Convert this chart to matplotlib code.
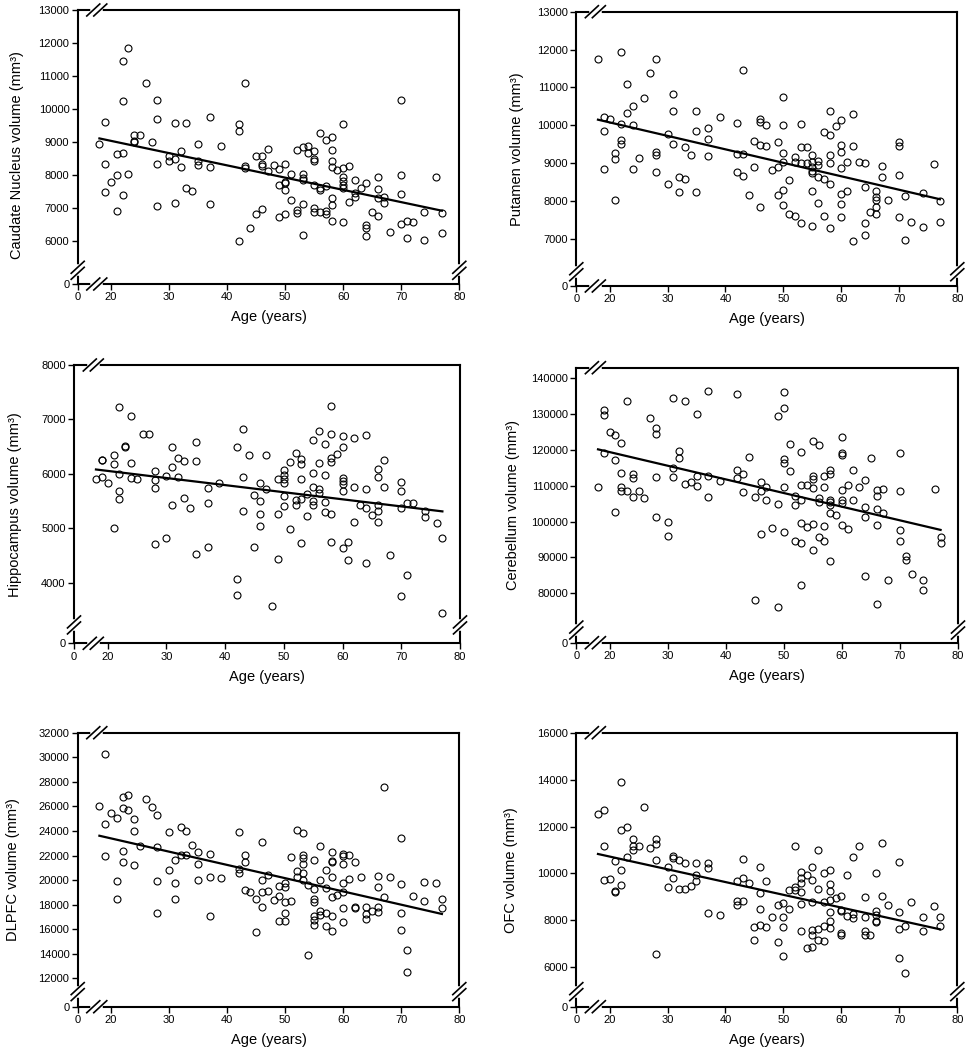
import numpy as np
import matplotlib
matplotlib.use('Agg')
import matplotlib.pyplot as plt
from matplotlib.lines import Line2D

plt.rcParams['font.family'] = ['Liberation Sans', 'DejaVu Sans']

# (age, volume) pairs
caudate = [(18,8930),(19,9620),(19,8330),(19,7500),(20,7790),(21,8630),(21,7990),(21,6900),(22,11470),(22,10240),(22,8670),(22,7410),
    (23,11860),(23,8030),(24,9210),(24,8990),(24,9040),(25,9210),(26,10800),(27,9010),(28,10280),(28,9700),(28,8320),(28,7050),
    (30,8580),(30,8420),(31,9590),(31,8500),(31,7160),(32,8740),(32,8230),(33,9580),(33,7600),(34,7530),(35,8940),(35,8440),(35,8310),
    (37,9760),(37,8250),(37,7120),(39,8880),(42,9540),(42,9340),(42,6010),(43,10790),(43,8280),(43,8220),(44,6390),(45,8570),(45,6810),
    (46,8570),(46,8350),(46,8280),(46,6980),(47,8780),(47,8130),(48,8300),(49,8170),(49,7710),(49,6720),(50,8350),(50,7790),(50,7750),
    (50,7540),(50,6820),(51,8040),(51,7250),(52,8750),(52,6940),(52,6840),(53,8850),(53,8020),(53,7900),(53,7840),(53,7120),(53,6180),
    (54,8870),(54,8680),(55,8740),(55,8500),(55,8420),(55,7690),(55,6990),(55,6880),(56,9270),(56,7620),(56,7550),(56,6880),(57,9050),
    (57,7670),(57,6900),(57,6820),(58,9140),(58,8760),(58,8430),(58,8240),(58,7300),(58,7090),(58,6600),(59,8150),(60,9540),(60,8220),
    (60,7940),(60,7820),(60,7690),(60,7600),(60,6590),(61,8260),(61,7170),(62,7860),(62,7450),(62,7350),(63,7600),(64,7750),(64,6490),
    (64,6390),(64,6160),(65,6870),(66,7930),(66,7570),(66,7290),(66,6750),(67,7340),(67,7150),(68,6280),(70,10280),(70,8010),(70,7430),
    (70,6530),(71,6620),(71,6100),(72,6590),(74,6880),(74,6030),(76,7950),(77,6860),(77,6260)]

putamen = [(18,11760),(19,10230),(19,9850),(19,8850),(20,10170),(21,9280),(21,9100),(21,8020),(22,11930),(22,10030),(22,9610),(22,9520),
    (23,11090),(23,10320),(24,10500),(24,10000),(24,8840),(25,9150),(26,10730),(27,11370),(28,11760),(28,9300),(28,9210),(28,8780),
    (30,9770),(30,8450),(31,10840),(31,10370),(31,9520),(32,8650),(32,8250),(33,9430),(33,8590),(34,9210),(35,10380),(35,9860),(35,8230),
    (37,9920),(37,9650),(37,9190),(39,10220),(42,10060),(42,9240),(42,8760),(43,9240),(43,11460),(43,8670),(44,8150),(45,9590),(45,8900),
    (46,10160),(46,10090),(46,9470),(46,7840),(47,10020),(47,9460),(48,8810),(49,9550),(49,8900),(49,8150),(50,10760),(50,10020),
    (50,9280),(50,9040),(50,8300),(50,7900),(51,8560),(51,7670),(52,9170),(52,9020),(52,7610),(53,10030),(53,9440),(53,9010),(53,7410),
    (54,9440),(54,9010),(55,9230),(55,9020),(55,8910),(55,8800),(55,8730),(55,8280),(55,7340),(56,9060),(56,8950),(56,8650),(56,7950),
    (57,9820),(57,8590),(57,7600),(58,10380),(58,9750),(58,9220),(58,9000),(58,8450),(58,7290),(59,9980),(60,10130),(60,9470),(60,9300),
    (60,8870),(60,8180),(60,7920),(60,7580),(61,9030),(61,8280),(62,10300),(62,9460),(62,6940),(63,9020),(64,9000),(64,8360),(64,7430),
    (64,7100),(65,7710),(66,8280),(66,8100),(66,8030),(66,7840),(66,7660),(67,8940),(67,8630),(68,8040),(70,9560),(70,9450),(70,8680),
    (70,7580),(71,8130),(71,6970),(72,7460),(74,8210),(74,7310),(76,8970),(77,8000),(77,7460)]

hippocampus = [(18,5900),(19,6250),(19,6260),(19,5950),(20,5830),(21,6350),(21,6180),(21,5010),(22,7220),(22,6000),(22,5680),(22,5540),
    (23,6510),(23,6500),(24,7070),(24,6200),(24,5930),(25,5900),(26,6730),(27,6730),(28,6050),(28,5890),(28,5740),(28,4710),(30,5960),
    (30,4820),(31,6500),(31,6130),(31,5420),(32,6290),(32,5950),(33,6240),(33,5560),(34,5380),(35,6580),(35,6240),(35,4530),(37,5740),
    (37,5460),(37,4660),(39,5840),(42,6490),(42,4070),(42,3770),(43,6820),(43,5940),(43,5320),(44,6350),(45,5620),(45,4660),(46,5840),
    (46,5500),(46,5260),(46,5040),(47,6340),(47,5720),(48,3580),(49,5900),(49,5260),(49,4430),(50,6070),(50,5980),(50,5900),(50,5830),
    (50,5600),(50,5400),(51,6210),(51,4990),(52,6380),(52,5520),(52,5420),(53,6270),(53,6180),(53,5900),(53,5530),(53,4720),(54,5630),
    (54,5230),(55,6620),(55,6020),(55,5750),(55,5500),(55,5420),(56,6780),(56,6200),(56,5720),(56,5650),(57,6540),(57,5970),(57,5480),
    (57,5290),(58,7250),(58,6740),(58,6290),(58,6220),(58,5260),(58,4750),(59,6360),(60,6690),(60,6490),(60,5930),(60,5870),(60,5820),
    (60,5680),(60,4640),(61,4750),(61,4420),(62,6660),(62,5760),(62,5120),(63,5420),(64,6710),(64,5730),(64,5380),(64,4370),(65,5240),
    (66,6080),(66,5950),(66,5420),(66,5310),(66,5120),(67,6250),(67,5750),(68,4500),(70,5850),(70,5690),(70,5380),(70,3760),(71,5460),
    (71,4140),(72,5470),(74,5310),(74,5210),(76,5100),(77,4820),(77,3450)]

cerebellum = [(18,109700),(19,131100),(19,129900),(19,119100),(20,125100),(21,124200),(21,117300),(21,102600),(22,121900),(22,113700),
    (22,109600),(22,108500),(23,133800),(23,108500),(24,113400),(24,112200),(24,107000),(25,108700),(26,106700),(27,128900),(28,126100),
    (28,124600),(28,112400),(28,101400),(30,99800),(30,96100),(31,134400),(31,115100),(31,112600),(32,119800),(32,117800),(33,133700),
    (33,110600),(34,111000),(35,130000),(35,112700),(35,110000),(37,136600),(37,112700),(37,106900),(39,111300),(42,135600),(42,114500),
    (42,112300),(43,113400),(43,108400),(44,118000),(45,106900),(45,78000),(46,111200),(46,108700),(46,96600),(47,109600),(47,106000),
    (48,98300),(49,129500),(49,104800),(49,76300),(50,136100),(50,131700),(50,117500),(50,116400),(50,109700),(50,97100),(51,121600),
    (51,114200),(52,107100),(52,104700),(52,94700),(53,119400),(53,110200),(53,106000),(53,99700),(53,94100),(53,82400),(54,110300),
    (54,98400),(55,122400),(55,112800),(55,111900),(55,109300),(55,99300),(55,92200),(56,121300),(56,106700),(56,105400),(56,95800),
    (57,112700),(57,109600),(57,98800),(57,94600),(58,114400),(58,113300),(58,106100),(58,105500),(58,104700),(58,102500),(58,89100),
    (59,101800),(60,123700),(60,119300),(60,118500),(60,108900),(60,106100),(60,105100),(60,99100),(61,110200),(61,97900),(62,114400),
    (62,106000),(63,109600),(64,111600),(64,104000),(64,101200),(64,84800),(65,117900),(66,108800),(66,107100),(66,103600),(66,99200),
    (66,76900),(67,109200),(67,102400),(68,83800),(70,119200),(70,108500),(70,97700),(70,94500),(71,90400),(71,89300),(72,85300),
    (74,83600),(74,81000),(76,109100),(77,95800),(77,94000)]

dlpfc = [(18,26030),(19,30290),(19,24570),(19,21990),(20,25460),(21,25050),(21,19950),(21,18490),(22,26790),(22,25890),(22,22340),
    (22,21440),(23,26950),(23,25680),(24,25000),(24,23970),(24,21200),(25,22770),(26,26600),(27,25980),(28,25300),(28,22670),(28,19900),
    (28,17350),(30,23940),(30,20790),(31,21630),(31,19760),(31,18460),(32,24320),(32,22040),(33,24000),(33,22040),(34,22880),(35,22260),
    (35,21280),(35,19980),(37,22100),(37,20250),(37,17100),(39,20200),(42,23940),(42,20870),(42,20550),(43,22040),(43,21440),(43,19190),
    (44,19060),(45,18460),(45,15800),(46,23070),(46,20030),(46,19030),(46,17780),(47,20390),(47,19080),(48,18350),(49,19490),(49,18730),
    (49,16700),(50,19730),(50,19460),(50,18190),(50,17290),(50,16670),(51,21850),(51,18320),(52,24100),(52,20770),(52,20280),(53,23810),
    (53,22010),(53,21770),(53,21280),(53,20550),(53,20010),(54,19630),(54,13900),(55,21610),(55,19300),(55,18490),(55,18210),(55,17100),
    (55,16720),(55,16370),(56,22750),(56,19980),(56,17480),(56,17130),(57,20790),(57,19380),(57,17350),(57,16230),(58,22260),(58,21550),
    (58,21470),(58,20280),(58,18650),(58,17080),(58,15880),(59,18780),(60,22120),(60,21990),(60,21280),(60,19730),(60,19000),(60,17750),
    (60,16610),(61,22010),(61,20110),(62,21440),(62,17830),(62,17700),(63,20220),(64,17830),(64,17210),(64,16800),(65,17460),(66,20330),
    (66,19410),(66,17810),(66,17370),(67,27600),(67,18650),(68,20250),(70,23430),(70,19680),(70,17350),(70,15960),(71,14280),(71,12490),
    (72,18680),(74,19820),(74,18320),(76,19760),(77,18430),(77,17730)]

ofc = [(18,12530),(19,12710),(19,11170),(19,9710),(20,9760),(21,10550),(21,9240),(21,9220),(22,13880),(22,11850),(22,10150),(22,9490),
    (23,11990),(23,10700),(24,11480),(24,11190),(24,10990),(25,11160),(26,12820),(27,11100),(28,11470),(28,11270),(28,10560),(28,6570),
    (30,10290),(30,9440),(31,10730),(31,10650),(31,9790),(32,10590),(32,9340),(33,10450),(33,9320),(34,9450),(35,10460),(35,9920),
    (35,9690),(37,10460),(37,10230),(37,8300),(39,8220),(42,9690),(42,8830),(42,8660),(43,10620),(43,9790),(43,8840),(44,9610),(45,7710),
    (45,7180),(46,10280),(46,9180),(46,8490),(46,7800),(47,9680),(47,7710),(48,8130),(49,8640),(49,7080),(50,8730),(50,8130),(50,7710),
    (50,6500),(51,9310),(51,8490),(52,11160),(52,9410),(52,9300),(53,10080),(53,9820),(53,9580),(53,9220),(53,8710),(53,7550),(54,9940),
    (54,6820),(55,10280),(55,9710),(55,8770),(55,7610),(55,7380),(55,6850),(56,10990),(56,9320),(56,7630),(56,7150),(57,10010),(57,8770),
    (57,7760),(57,7140),(58,10150),(58,9570),(58,9240),(58,8860),(58,8360),(58,7970),(58,7680),(59,8940),(60,9050),(60,8460),(60,8400),
    (60,7460),(60,7390),(61,9950),(61,8170),(62,10720),(62,8270),(62,8120),(63,11190),(64,9000),(64,8160),(64,7560),(64,7380),(65,7390),
    (66,10020),(66,8390),(66,8230),(66,7970),(66,7920),(67,11280),(67,9050),(68,8670),(70,10490),(70,8370),(70,7630),(70,6410),(71,7760),
    (71,5770),(72,8770),(74,8160),(74,7550),(76,8610),(77,8150),(77,7780)]

# regression line end values at the youngest / oldest age
fit_ages = [18, 77]
caudate_fit = [9110, 6920]
putamen_fit = [10150, 8050]
hippocampus_fit = [6080, 5310]
cerebellum_fit = [120200, 97700]
dlpfc_fit = [23610, 17240]
ofc_fit = [10830, 7620]

x_ticks = [0, 20, 30, 40, 50, 60, 70, 80]

W, H = 968, 1050


def broken(z0, lo):
    # 0 is pulled up next to the lowest tick, everything above lo is linear
    def fwd(v):
        v = np.asarray(v, dtype=float)
        return np.where(v < lo, z0 + (lo - z0) * v / lo, v)

    def inv(u):
        u = np.asarray(u, dtype=float)
        return np.where(u < lo, (u - z0) * lo / (lo - z0), u)
    return fwd, inv


def add_break(ax, xf, yf, vertical):
    bb = ax.get_position()
    px = 1.0 / (bb.width * W)
    py = 1.0 / (bb.height * H)
    kw = dict(transform=ax.transAxes, clip_on=False)
    if vertical:
        ax.add_line(Line2D([xf, xf], [yf - 3 * py, yf + 3 * py], color='white', lw=4, zorder=5, **kw))
        for d in (-3, 3):
            yc = yf + d * py
            ax.add_line(Line2D([xf - 6.5 * px, xf + 6.5 * px], [yc - 6 * py, yc + 6 * py], color='black', lw=1.2, zorder=6, **kw))
    else:
        ax.add_line(Line2D([xf - 3.5 * px, xf + 3.5 * px], [yf, yf], color='white', lw=4, zorder=5, **kw))
        for d in (-3.5, 3.5):
            xc = xf + d * px
            ax.add_line(Line2D([xc - 6.5 * px, xc + 6.5 * px], [yf - 6 * py, yf + 6 * py], color='black', lw=1.2, zorder=6, **kw))


panels = [
    dict(pts=caudate, fit=caudate_fit, label='Caudate Nucleus volume (mm³)',
         rect=(77.7, 10, 459.3, 284), z0=4700, lo=5500, top=13000,
         yt=[0] + list(range(6000, 13001, 1000)), brk=0.05, lab=(-0.14, 0.47)),
    dict(pts=putamen, fit=putamen_fit, label='Putamen volume (mm³)',
         rect=(576.3, 11.7, 957.3, 286), z0=5760, lo=6500, top=13000,
         yt=[0] + list(range(7000, 13001, 1000)), brk=0.052, lab=(-0.137, 0.5)),
    dict(pts=hippocampus, fit=hippocampus_fit, label='Hippocampus volume (mm³)',
         rect=(74, 365, 460, 643.3), z0=2886, lo=3300, top=8000,
         yt=[0, 4000, 5000, 6000, 7000, 8000], brk=0.066, lab=(-0.135, 0.5)),
    dict(pts=cerebellum, fit=cerebellum_fit, label='Cerebellum volume (mm³)',
         rect=(576.3, 367.7, 958, 642.7), z0=66200, lo=74000, top=143000,
         yt=[0] + list(range(80000, 140001, 10000)), brk=0.046, lab=(-0.147, 0.5)),
    dict(pts=dlpfc, fit=dlpfc_fit, label='DLPFC volume (mm³)',
         rect=(77.7, 732.7, 459.3, 1006.7), z0=9690, lo=11000, top=32000,
         yt=[0] + list(range(12000, 32001, 2000)), brk=0.055, lab=(-0.152, 0.5)),
    dict(pts=ofc, fit=ofc_fit, label='OFC volume (mm³)',
         rect=(576.3, 732.7, 957.3, 1006.7), z0=4320, lo=5300, top=16000,
         yt=[0] + list(range(6000, 16001, 2000)), brk=0.055, lab=(-0.154, 0.5)),
]

fig = plt.figure(figsize=(W / 100, H / 100), dpi=100)

for p in panels:
    l, t, r, b = p['rect']
    ax = fig.add_axes([l / W, 1 - b / H, (r - l) / W, (b - t) / H])
    ax.set_xscale('function', functions=broken(14.26, 16))
    ax.set_yscale('function', functions=broken(p['z0'], p['lo']))

    pts = np.array(p['pts'], dtype=float)
    ax.plot(pts[:, 0], pts[:, 1], 'o', ms=5, mfc='none', mec='black', mew=0.8)
    ax.plot(fit_ages, p['fit'], color='black', lw=1.6)

    ax.set_xlim(0, 80)
    ax.set_ylim(0, p['top'])
    ax.set_xticks(x_ticks)
    ax.set_xticklabels([str(v) for v in x_ticks])
    ax.set_yticks(p['yt'])
    ax.set_yticklabels([str(v) for v in p['yt']])
    ax.minorticks_off()
    ax.tick_params(direction='out', length=4, width=1, labelsize=8, pad=2)
    for s in ax.spines.values():
        s.set_linewidth(1.5)

    ax.set_xlabel('Age (years)', fontsize=10.5)
    ax.xaxis.set_label_coords(0.5, -0.095)
    ax.set_ylabel(p['label'], fontsize=10.5)
    ax.yaxis.set_label_coords(*p['lab'])

    add_break(ax, 0.05, 0, vertical=False)
    add_break(ax, 0.05, 1, vertical=False)
    add_break(ax, 0, p['brk'], vertical=True)
    add_break(ax, 1, p['brk'], vertical=True)

fig.savefig('out.png', dpi=100)
